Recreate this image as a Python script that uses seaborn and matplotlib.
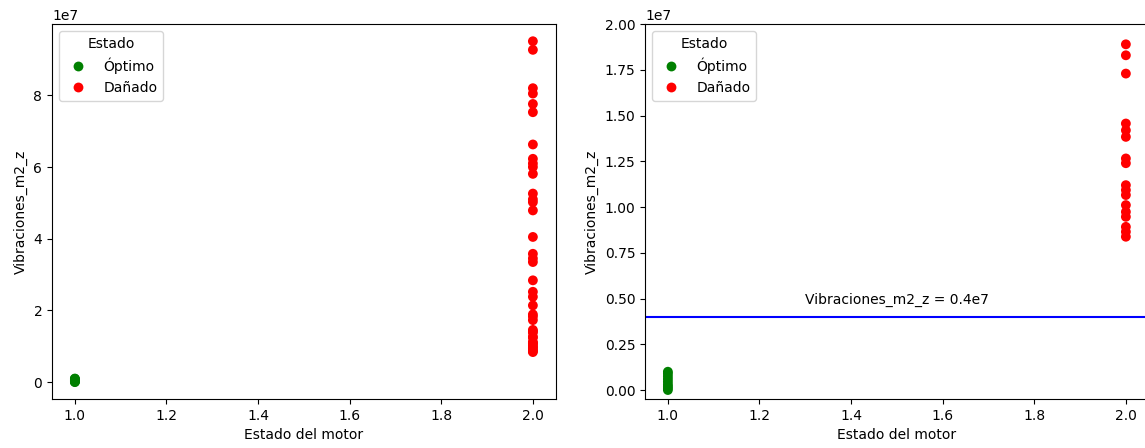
import seaborn as sns
import matplotlib.pyplot as plt
import pandas as pd

# vibration readings per motor state (x = state code)
optimo_vib = [0.0, 0.01e7, 0.02e7, 0.03e7, 0.045e7, 0.06e7, 0.075e7, 0.09e7, 0.1e7]
danado_vib = [0.838e7, 0.865e7, 0.892e7, 0.947e7, 0.974e7, 1.011e7, 1.066e7,
              1.093e7, 1.12e7, 1.24e7, 1.266e7, 1.384e7, 1.42e7, 1.457e7,
              1.73e7, 1.83e7, 1.89e7,
              2.14e7, 2.38e7, 2.52e7, 2.84e7, 3.35e7, 3.45e7, 3.58e7, 4.05e7,
              4.79e7, 5.02e7, 5.1e7, 5.26e7, 5.81e7, 6.0e7, 6.1e7, 6.23e7, 6.63e7,
              7.53e7, 7.76e7, 8.05e7, 8.2e7, 9.27e7, 9.51e7]
umbral = 0.4e7

df = pd.DataFrame({
    'Estado del motor': [1] * len(optimo_vib) + [2] * len(danado_vib),
    'Vibraciones_m2_z': optimo_vib + danado_vib,
    'Estado': ['Óptimo'] * len(optimo_vib) + ['Dañado'] * len(danado_vib),
})
colores = {'Óptimo': 'green', 'Dañado': 'red'}

fig = plt.figure(figsize=(11.45, 4.48), dpi=100)
ax1 = fig.add_axes([0.0454, 0.109, 0.440, 0.837])
ax2 = fig.add_axes([0.5633, 0.109, 0.440, 0.837])

sns.scatterplot(data=df, x='Estado del motor', y='Vibraciones_m2_z', hue='Estado',
                palette=colores, s=50, linewidth=0, ax=ax1)
ax1.legend(title='Estado', loc='upper left')

sns.scatterplot(data=df, x='Estado del motor', y='Vibraciones_m2_z', hue='Estado',
                palette=colores, s=50, linewidth=0, ax=ax2)
ax2.axhline(umbral, color='blue')
ax2.text(1.5, 0.47e7, 'Vibraciones_m2_z = 0.4e7', ha='center')
ax2.set_ylim(-0.05e7, 2e7)
ax2.legend(title='Estado', loc='upper left')

fig.savefig('out.png', dpi=100)
